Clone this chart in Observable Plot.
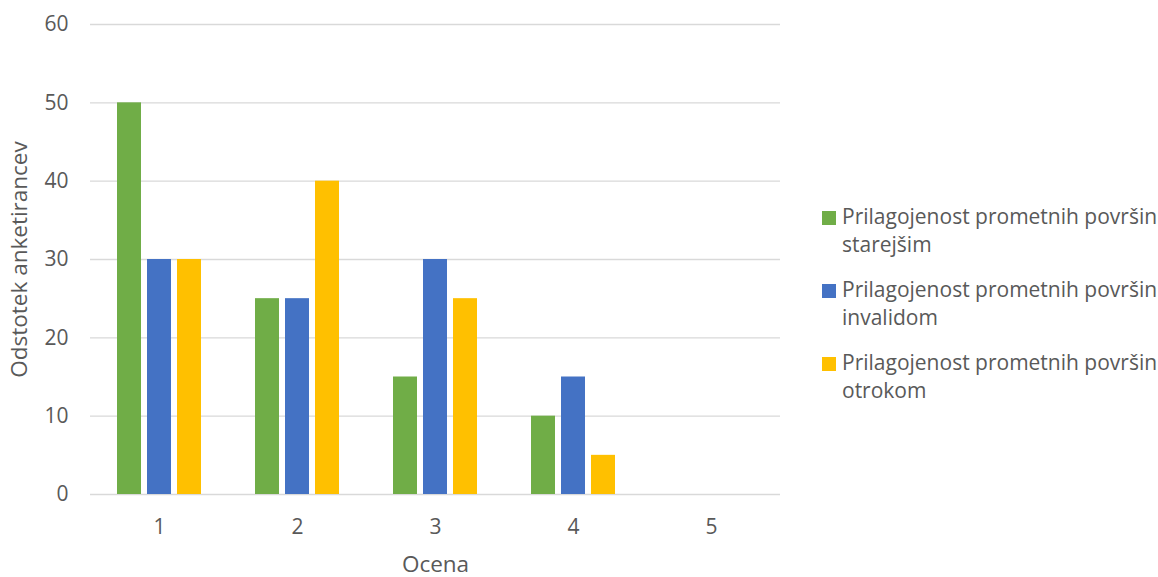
<!DOCTYPE html>
<html>
<head>
<meta charset="utf-8">
<script src="https://cdn.jsdelivr.net/npm/d3@7"></script>
<script src="https://cdn.jsdelivr.net/npm/@observablehq/plot@0.6"></script>
<style>
  html, body { margin: 0; padding: 0; background: #fff; }
  #wrap { position: relative; width: 1158px; height: 577px; font-family: "Open Sans", sans-serif; color: #595959; }
  #chart { position: absolute; left: 0; top: 0; }
  #legend { position: absolute; left: 822px; top: 202px; width: 336px; }
  .item { display: flex; align-items: flex-start; margin-bottom: 17px; }
  .sw { width: 14px; height: 14px; margin-top: 9px; margin-right: 6px; flex: none; }
  .lbl { font-size: 21px; line-height: 28px; width: 316px; }
</style>
</head>
<body>
<div id="wrap"><div id="chart"></div><div id="legend"></div></div>
<script>
const categories = ["1", "2", "3", "4", "5"];
const seriesNames = [
  "Prilagojenost prometnih površin starejšim",
  "Prilagojenost prometnih površin invalidom",
  "Prilagojenost prometnih površin otrokom"
];
const starejsim = [50, 25, 15, 10, 0];
const invalidom = [30, 25, 30, 15, 0];
const otrokom = [30, 40, 25, 5, 0];
const colors = ["#70AD47", "#4472C4", "#FFC000"];
const yTicks = [0, 10, 20, 30, 40, 50, 60];
const yLabel = "Odstotek anketirancev";
const xLabel = "Ocena";

const seriesValues = [starejsim, invalidom, otrokom];
const data = [];
categories.forEach((c, i) => {
  seriesNames.forEach((s, j) => data.push({cat: c, series: s, value: seriesValues[j][i]}));
});

const chart = Plot.plot({
  width: 800,
  height: 577,
  marginLeft: 90,
  marginRight: 20,
  marginTop: 24,
  marginBottom: 83,
  style: {fontFamily: "'Open Sans', sans-serif", fontSize: "21px", color: "#595959", background: "transparent"},
  fx: {domain: categories, padding: 0},
  x: {domain: seriesNames, paddingInner: 0.213, paddingOuter: 0.869, axis: null},
  y: {domain: [0, 60]},
  color: {domain: seriesNames, range: colors},
  marks: [
    Plot.gridY(yTicks.slice(1), {stroke: "#d9d9d9", strokeOpacity: 1, strokeWidth: 1.3}),
    Plot.ruleY([0], {stroke: "#d9d9d9", strokeWidth: 1.5}),
    Plot.barY(data, {fx: "cat", x: "series", y: "value", fill: "series"}),
    Plot.axisY(yTicks, {tickSize: 0, tickPadding: 22, label: null, fontSize: 21}),
    Plot.axisY([], {tickSize: 0, label: yLabel, labelAnchor: "center", labelArrow: "none", labelOffset: 79, fontSize: 22.5}),
    Plot.axisFx({anchor: "bottom", tickSize: 0, tickPadding: 25, label: null, fontSize: 21}),
    Plot.axisFx({anchor: "bottom", ticks: [], tickSize: 0, label: xLabel, labelAnchor: "center", labelArrow: "none", labelOffset: 77, fontSize: 22.5})
  ]
});
document.getElementById("chart").appendChild(chart);

const legend = document.getElementById("legend");
seriesNames.forEach((s, j) => {
  const item = document.createElement("div");
  item.className = "item";
  const sw = document.createElement("div");
  sw.className = "sw";
  sw.style.background = colors[j];
  const lbl = document.createElement("div");
  lbl.className = "lbl";
  lbl.textContent = s;
  item.appendChild(sw);
  item.appendChild(lbl);
  legend.appendChild(item);
});
</script>
</body>
</html>
